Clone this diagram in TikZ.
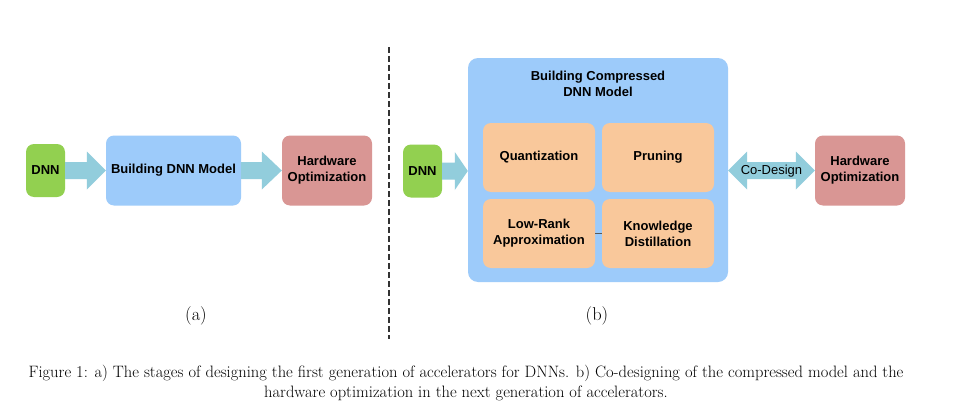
\documentclass[tikz,border=0pt]{standalone}
\usepackage{fontspec}
\newfontfamily\arialf{Liberation Sans}
\usetikzlibrary{calc}
\definecolor{dnngreen}{HTML}{92D050}
\definecolor{modelblue}{HTML}{9DCBFA}
\definecolor{hwred}{HTML}{D99694}
\definecolor{techorange}{HTML}{F9C89B}
\definecolor{arrowteal}{HTML}{92CDDC}
\newcommand{\fatarrow}[3]{%
  \fill[arrowteal] let \p1=(#1.east), \p2=(#2.west) in
    (\x1,\y1+8.5pt) -- (\x2-#3,\y1+8.5pt) -- (\x2-#3,\y1+19pt) -- (\x2,\y1)
    -- (\x2-#3,\y1-19pt) -- (\x2-#3,\y1-8.5pt) -- (\x1,\y1-8.5pt) -- cycle;}
\newcommand{\dblarrow}[3]{%
  \fill[arrowteal] let \p1=(#1.east), \p2=(#2.west) in
    (\x1,\y2) -- (\x1+#3,\y2+19pt) -- (\x1+#3,\y2+8.5pt) -- (\x2-#3,\y2+8.5pt)
    -- (\x2-#3,\y2+19pt) -- (\x2,\y2) -- (\x2-#3,\y2-19pt) -- (\x2-#3,\y2-8.5pt)
    -- (\x1+#3,\y2-8.5pt) -- (\x1+#3,\y2-19pt) -- cycle;}
\begin{document}
\begin{tikzpicture}[x=1pt,y=-1pt,
  box/.style={rounded corners=8pt, inner sep=0pt, align=center, text=black,
    font=\arialf\bfseries\fontsize{13}{16}\selectfont},
  dnnbox/.style={box, fill=dnngreen, minimum width=39pt, minimum height=53pt},
  hwbox/.style={box, fill=hwred, minimum width=90pt, minimum height=70pt},
  techbox/.style={box, fill=techorange, minimum width=112pt, minimum height=69pt},
  sublabel/.style={font=\fontsize{18.5}{22}\selectfont},
]
\useasboundingbox (0,0) rectangle (972,415);
\fill[white] (0,0) rectangle (972,415);

% (a)
\node[dnnbox] (dnnA) at (45.5,170.5) {DNN};
\node[box, fill=modelblue, minimum width=135pt, minimum height=70pt] (modelA) at (173.5,170.5) {Building DNN Model};
\node[hwbox] (hwA) at (327,170.5) {Hardware\\Optimization};
\fatarrow{dnnA}{modelA}{19pt}
\fatarrow{modelA}{hwA}{20pt}

% divider
\coordinate (divtop) at (389,47);
\coordinate (divbot) at (389,339);
\draw[black!80, line width=1.4pt, dash pattern=on 6pt off 3pt] (divtop) -- (divbot);

% (b)
\node[dnnbox] (dnnB) at (422.5,171) {DNN};
\node[box, rounded corners=10pt, fill=modelblue, minimum width=260pt, minimum height=224pt] (cont) at (598,170) {};
\node[box] (title) at (598,83.5) {Building Compressed\\DNN Model};
\node[techbox] (quant) at (539,157.5) {Quantization};
\node[techbox] (prune) at (658,157.5) {Pruning};
\node[techbox] (lowrank) at (539,233.5) {Low-Rank\\Approximation};
\node[techbox] (know) at (658,233.5) {Knowledge\\Distillation};
\draw[black!65, line width=0.8pt] (lowrank.east) -- (know.west);
\node[hwbox] (hwB) at (860,170.5) {Hardware\\Optimization};
\fatarrow{dnnB}{cont}{13pt}
\dblarrow{cont}{hwB}{19pt}
\node[font=\arialf\fontsize{13}{16}\selectfont] (codesign) at (771.5,171) {Co-Design};

% sublabels
\node[sublabel] (laba) at (196,316) {(a)};
\node[sublabel] (labb) at (597,316) {(b)};

% caption
\node[align=center, font=\fontsize{16.5}{20}\selectfont] (caption) at (466,383)
 {Figure 1: a) The stages of designing the first generation of accelerators for DNNs. b) Co-designing of the compressed model and the\\
  hardware optimization in the next generation of accelerators.};
\end{tikzpicture}
\end{document}
